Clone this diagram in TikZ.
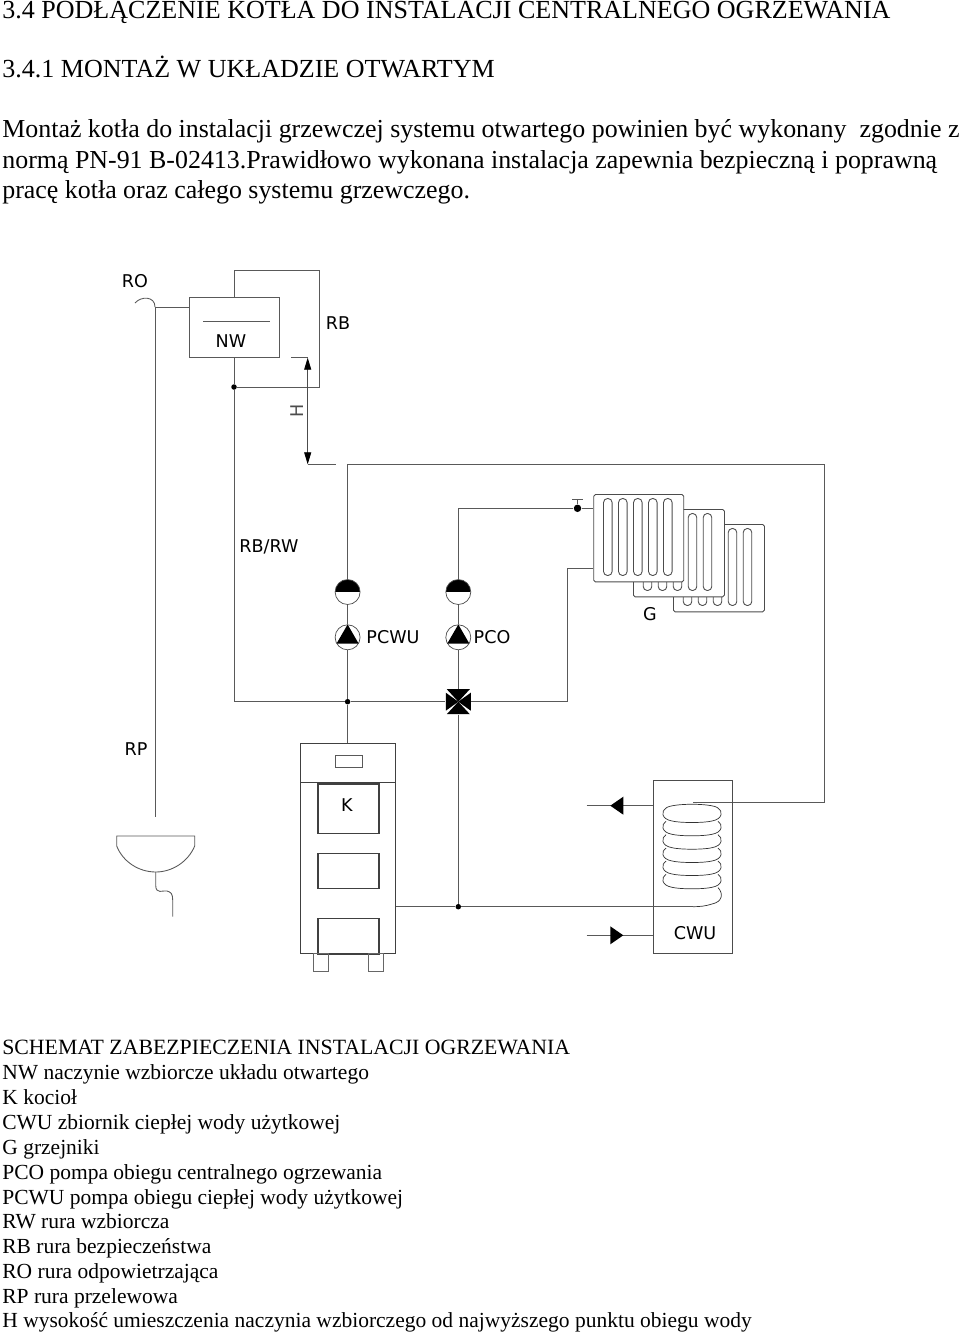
\documentclass[tikz,border=0pt]{standalone}
\usepackage{fontspec}
\setmainfont{Liberation Serif}
\newfontfamily\labelfont{DejaVu Sans}
\usetikzlibrary{arrows.meta,calc}
\begin{document}
\begin{tikzpicture}[
    x=0.02cm, y=-0.02cm,
    pipe/.style={draw, black!65, line width=0.5pt},
    heavy line/.style={draw, black!75, line width=0.7pt},
    coil line/.style={draw, black!80, line width=0.4pt},
    level arrow/.style={draw, black!70, line width=0.5pt, {Triangle[length=0.24cm,width=0.14cm,black]}-{Triangle[length=0.24cm,width=0.14cm,black]}},
    dot/.style={circle, fill=black, inner sep=0pt, minimum size=0.11cm},
    gauge/.style={circle, draw=black!70, fill=white, inner sep=0pt, minimum size=0.5cm,
      path picture={\fill[black] (path picture bounding box.west) rectangle (path picture bounding box.north east);}},
    pump/.style={circle, draw=black!70, fill=white, inner sep=0pt, minimum size=0.5cm},
    valvebox/.style={inner sep=0pt, minimum size=0.5cm},
    head text/.style={anchor=base west, inner sep=0pt, font=\fontsize{14.82}{17}\selectfont},
    title text/.style={anchor=base west, inner sep=0pt, font=\fontsize{14.75}{17}\selectfont},
    legend head/.style={anchor=base west, inner sep=0pt, font=\fontsize{12.4}{15}\selectfont},
    legend text/.style={anchor=base west, inner sep=0pt, font=\fontsize{12.24}{15}\selectfont},
    tag/.style={inner sep=0pt, font=\labelfont\fontsize{10}{12}\selectfont},
    ]
\useasboundingbox (0,0) rectangle (960,1332);
\node[head text] (head1) at (2,18) {3.4 PODŁĄCZENIE KOTŁA DO INSTALACJI CENTRALNEGO OGRZEWANIA};
\node[head text] (head2) at (2,77) {3.4.1 MONTAŻ W UKŁADZIE OTWARTYM};
\node[title text] (body1) at (2,137) {Montaż kotła do instalacji grzewczej systemu otwartego powinien być wykonany\ \ zgodnie z};
\node[title text] (body2) at (2,168) {normą PN-91 B-02413.Prawidłowo wykonana instalacja zapewnia bezpieczną i poprawną};
\node[title text] (body3) at (2,198) {pracę kotła oraz całego systemu grzewczego.};
\node[tag] (RO) at (135,281) {RO};
\node[tag] (RB) at (338,323) {RB};
\node[tag] (RBRW) at (269,547) {RB/RW};
\node[tag] (PCWU) at (393,637) {PCWU};
\node[tag] (PCO) at (492,637) {PCO};
\node[tag] (G) at (650,614) {G};
\node[tag] (RP) at (136,749) {RP};
\node[tag] (CWU) at (695,933) {CWU};
\node[tag, rotate=90, black!70] (H) at (297,411) {H};
\coordinate (ventEnd) at (135,303);
\coordinate (ventTop) at (155,307);
\coordinate (rpEnd) at (155,817);
\draw[pipe] (ventEnd) .. controls (141,296) and (155,296) .. (ventTop);
\draw[pipe] (ventTop) -- (rpEnd);
\node[draw=black!65, line width=0.5pt, minimum width=1.8cm, minimum height=1.21cm, inner sep=0pt] (NW) at (234,327.5) {};
\node[tag] (NWtag) at (231,341) {NW};
\coordinate (waterA) at (203,321.3);
\coordinate (waterB) at (270,321.3);
\draw[pipe] (waterA) -- (waterB);
\draw[pipe] (ventTop) -- (ventTop -| NW.west);
\coordinate (rbA) at (234,270.7);
\coordinate (rbB) at (319.7,270.7);
\coordinate (rbC) at (319.7,387);
\node[dot] (teeNW) at (234,387) {};
\draw[pipe] (NW.north) -- (rbA) -- (rbB) -- (rbC) -- (teeNW);
\draw[pipe] (NW.south) -- (teeNW);
\coordinate (hTopA) at (291,357.7);
\coordinate (hTop) at (307.7,357.7);
\coordinate (hLow) at (307.7,464.3);
\coordinate (hLowB) at (335.7,464.3);
\draw[pipe] (hTopA) -- (hTop);
\draw[pipe] (hLow) -- (hLowB);
\draw[level arrow] (hTop) -- (hLow);
\node[dot] (teeK) at (347.6,701.7) {};
\coordinate (rwCorner) at (234,701.7);
\draw[pipe] (teeNW) -- (rwCorner) -- (teeK);
\node[gauge] (gaugeA) at (347.6,592) {};
\node[pump] (pumpA) at (347.6,637.3) {};
\node[gauge] (gaugeB) at (458.3,592) {};
\node[pump] (pumpB) at (458.3,637.3) {};
\foreach \p in {pumpA,pumpB}
  \fill[black] (\p.90) -- (\p.210) -- (\p.330) -- cycle;
\node[valvebox] (valve) at (458.3,701.7) {};
\foreach \ax/\ay/\bx/\by in {-11.5/-12.5/11.5/-12.5,11.5/12.5/-11.5/12.5,-12.5/-9/-12.5/9,12.5/-9/12.5/9}
  \fill[black] ($(valve)+(\ax,\ay)$) -- ($(valve)+(\bx,\by)$) -- (valve.center) -- cycle;
\coordinate (topLeft) at (347.6,464.6);
\coordinate (topRight) at (824,464.6);
\coordinate (coilIn) at (824,802.3);
\coordinate (coilTop) at (693,802.3);
\draw[pipe] (gaugeA) -- (topLeft) -- (topRight) -- (coilIn) -- (coilTop);
\draw[pipe] (gaugeA) -- (pumpA);
\draw[pipe] (pumpA) -- (teeK);
\draw[pipe] (gaugeB) -- (pumpB);
\draw[pipe] (pumpB) -- (valve);
\draw[pipe] (teeK) -- (valve);
\node[dot, minimum size=0.15cm] (vent) at (577.5,508.3) {};
\coordinate (ventStem) at (577.5,499);
\coordinate (ventBarA) at (572,499);
\coordinate (ventBarB) at (583,499);
\coordinate (supplyCorner) at (458.3,508.3);
\draw[pipe] (gaugeB) -- (supplyCorner) -- (vent);
\draw[pipe] (vent) -- (ventStem);
\draw[pipe] (ventBarA) -- (ventBarB);
\foreach \i/\x/\y/\w in {3/673/524/91,2/633/509/91,1/593.3/494/90}{
  \node[draw=black!70, fill=white, rounded corners=1pt, line width=0.5pt, minimum width=\w*0.02cm, minimum height=1.75cm, inner sep=0pt, anchor=north west] (rad\i) at (\x,\y) {};
  \foreach \s in {0,1,2,3,4}
    \draw[black!70, line width=0.5pt, rounded corners=2.3pt] (\x+10.2+\s*15,\y+4.5) rectangle (\x+18.8+\s*15,\y+81.5);
}
\coordinate (returnB) at (567.3,568.7);
\coordinate (returnC) at (567.3,701.7);
\coordinate (returnA) at (593.3,568.7);
\draw[pipe] (vent) -- (vent -| rad1.west);
\draw[pipe] (returnA) -- (returnB) -- (returnC) -- (valve);
\node[dot] (teeCWU) at (458.3,906.7) {};
\draw[pipe] (valve) -- (teeCWU);
\node[draw=black!75, line width=0.6pt, minimum width=1.9cm, minimum height=4.2cm, inner sep=0pt, anchor=north west] (K) at (300.3,743.3) {};
\coordinate (panelA) at (300.3,782.3);
\coordinate (panelB) at (395.3,782.3);
\draw[heavy line] (panelA) -- (panelB);
\draw[pipe] (teeK) -- (teeK |- K.north);
\node[draw=black!65, line width=0.5pt, minimum width=0.55cm, minimum height=0.25cm, inner sep=0pt] (Kdisplay) at (348.8,761.2) {};
\node[heavy line, minimum width=1.22cm, minimum height=0.99cm, inner sep=0pt, anchor=north west] (doorA) at (317.3,783.3) {};
\node[tag] (Ktag) at (347,805) {K};
\node[heavy line, minimum width=1.22cm, minimum height=0.7cm, inner sep=0pt, anchor=north west] (doorB) at (317.3,853) {};
\node[heavy line, minimum width=1.22cm, minimum height=0.71cm, inner sep=0pt, anchor=north west] (doorC) at (317.3,918) {};
\node[draw=black!60, line width=0.5pt, minimum width=0.29cm, minimum height=0.35cm, inner sep=0pt, anchor=north west] (footA) at (313.3,953.3) {};
\node[draw=black!60, line width=0.5pt, minimum width=0.29cm, minimum height=0.35cm, inner sep=0pt, anchor=north west] (footB) at (368,953.3) {};
\coordinate (funnelA) at (116.7,836);
\coordinate (funnelB) at (194.7,836);
\coordinate (funnelLow) at (155.7,872);
\coordinate (drainEnd) at (172.7,916.7);
\draw[pipe] (funnelA) -- (funnelB) -- (194.7,846) .. controls (188,862) and (172,872) .. (funnelLow) .. controls (139,872) and (123,862) .. (116.7,846) -- cycle;
\draw[pipe] (funnelLow) -- (155.7,885) .. controls (155.7,895) and (163,890) .. (167,891) .. controls (171,892) and (172.7,894) .. (172.7,900) -- (drainEnd);
\node[draw=black!70, line width=0.5pt, minimum width=1.58cm, minimum height=3.45cm, inner sep=0pt, anchor=north west] (tank) at (652.7,780.3) {};
\coordinate (outA) at (586.7,805.7);
\coordinate (inA) at (586.7,935.3);
\draw[pipe] (outA) -- (outA -| tank.west);
\draw[pipe] (inA) -- (inA -| tank.west);
\fill[black] (610.3,805.7) -- (623.3,796.7) -- (623.3,814.7) -- cycle;
\fill[black] (623.3,935.3) -- (610.3,926.3) -- (610.3,944.3) -- cycle;
\coordinate (coilEnd) at (693,906.7);
\draw[pipe] (teeCWU -| K.east) -- (teeCWU) -- (coilEnd);
\draw[coil line] (666,808) .. controls (672,803) and (712,803) .. (718,808);
\foreach \y in {808,821.3,834.7,848,861,874.3}
  \draw[coil line] (666,\y) .. controls (661,\y+3) and (661,\y+11) .. (672,\y+13) .. controls (680,\y+15) and (704,\y+15) .. (712,\y+13) .. controls (723,\y+11) and (723,\y+3) .. (718,\y);
\draw[coil line] (718,887.6) .. controls (724,894) and (722,902) .. (712,904) .. controls (706,906) and (700,906.7) .. (coilEnd);
\node[legend head] (leg1) at (2,1054) {SCHEMAT ZABEZPIECZENIA INSTALACJI OGRZEWANIA};
\node[legend text] (leg2) at (2,1079) {NW naczynie wzbiorcze układu otwartego};
\node[legend text] (leg3) at (2,1104) {K kocioł};
\node[legend text] (leg4) at (2,1129) {CWU zbiornik ciepłej wody użytkowej};
\node[legend text] (leg5) at (2,1154) {G grzejniki};
\node[legend text] (leg6) at (2,1179) {PCO pompa obiegu centralnego ogrzewania};
\node[legend text] (leg7) at (2,1204) {PCWU pompa obiegu ciepłej wody użytkowej};
\node[legend text] (leg8) at (2,1228) {RW rura wzbiorcza};
\node[legend text] (leg9) at (2,1253) {RB rura bezpieczeństwa};
\node[legend text] (leg10) at (2,1278) {RO rura odpowietrzająca};
\node[legend text] (leg11) at (2,1303) {RP rura przelewowa};
\node[legend text] (leg12) at (2,1327) {H wysokość umieszczenia naczynia wzbiorczego od najwyższego punktu obiegu wody};
\end{tikzpicture}
\end{document}
